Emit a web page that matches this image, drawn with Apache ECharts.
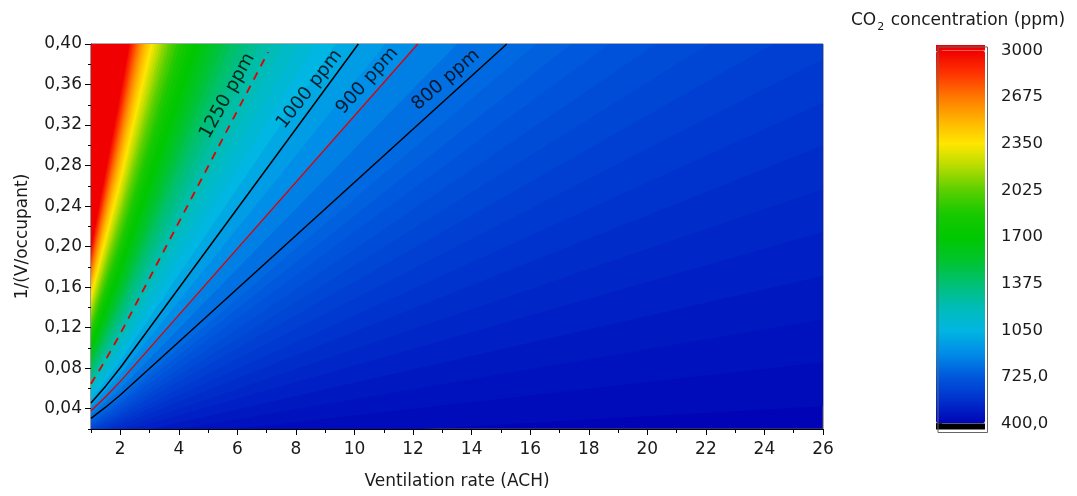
<!DOCTYPE html>
<html>
<head>
<meta charset="utf-8">
<script src="https://cdn.jsdelivr.net/npm/echarts@6/dist/echarts.min.js"></script>
<style>
html,body{margin:0;padding:0;background:#fff;}
#chart{width:1077px;height:496px;}
</style>
</head>
<body>
<div id="chart"></div>
<script>
// ---- Data ----
// Filled contour levels (ppm); each band boundary read at x = 1 ACH, x = 2 ACH and where it meets the top edge (y = 0.40)
const fillLevels = [425,450,475,500,525,550,575,600,625,650,675,700,725,750,775,800,850,900,950,1000,1050,1100,1150,1200,1250,1300,1350,1400,1450,1500,1550,1600,1650,1700,1750,1800,1850,1900,1950,2000,2050,2100,2150,2200,2250,2300,2350,2400,2450,2500,2550,2600,2650,2700,2750,2800,2850,2900,2950,3000];
const fillYAtX1 = [.002,.004,.006,.008,.010,.011,.013,.015,.017,.019,.021,.023,.025,.027,.029,.030,.034,.038,.042,.046,.049,.053,.057,.061,.065,.068,.072,.076,.080,.084,.087,.091,.095,.099,.103,.106,.110,.114,.118,.122,.125,.129,.133,.137,.141,.145,.148,.152,.156,.160,.164,.167,.171,.175,.179,.183,.186,.190,.194,.198];
const fillYAtX2 = [.003,.007,.010,.013,.017,.020,.024,.027,.030,.034,.037,.040,.044,.047,.050,.054,.060,.067,.074,.080,.087,.094,.101,.107,.114,.121,.127,.134,.141,.147,.154,.161,.168,.174,.181,.188,.194,.201,.208,.214,.221,.228,.235,.241,.248,.255,.261,.268,.275,.282,.288,.295,.302,.308,.315,.322,.328,.335,.342,.349];
const fillXAtTop = [243,121.6,81.1,60.8,48.6,40.5,34.7,30.4,27.0,24.3,22.1,20.3,18.7,17.4,16.2,15.2,13.5,12.16,11.05,10.13,9.35,8.69,8.11,7.60,7.15,6.76,6.40,6.08,5.79,5.53,5.29,5.07,4.86,4.68,4.50,4.34,4.19,4.05,3.92,3.80,3.68,3.58,3.47,3.38,3.29,3.20,3.12,3.04,2.96,2.89,2.82,2.75,2.69,2.63,2.57,2.52,2.46,2.41,2.36,2.32];
const readAtX = [1, 2];            // x positions where the band boundaries were read

// Labelled contour lines (x = ACH, y = 1/(V/occupant))
const contour800  = [[1, 0.0304], [1.5, 0.0415], [2, 0.0536], [15.2, 0.40]];
const contour900  = [[1, 0.0380], [1.5, 0.0519], [2, 0.0670], [12.16, 0.40]];
const contour1000 = [[1, 0.0457], [1.5, 0.0623], [2, 0.0804], [10.13, 0.40]];
const contour1250 = [[1, 0.0647], [1.5, 0.0883], [2, 0.1139], [7.05, 0.392]];

// Contour labels
const contourLabelText = ['800 ppm', '900 ppm', '1000 ppm', '1250 ppm'];
const contourLabelX = [13.12, 10.44, 8.46, 5.66];
const contourLabelY = [0.3645, 0.3638, 0.3553, 0.3487];
const contourLabelAngle = [41, 48, 52, 61];

// Axes
const xMin = 1, xMax = 26, xStep = 1;
const xLabelValues = [2, 4, 6, 8, 10, 12, 14, 16, 18, 20, 22, 24, 26];
const yMin = 0.02, yMax = 0.40, yStep = 0.02;
const yLabelValues = [0.04, 0.08, 0.12, 0.16, 0.20, 0.24, 0.28, 0.32, 0.36, 0.40];
const colorbarTicks  = [400, 725, 1050, 1375, 1700, 2025, 2350, 2675, 3000];
const colorbarLabels = ['400,0', '725,0', '1050', '1375', '1700', '2025', '2350', '2675', '3000'];
const colorMin = 400, colorMax = 3000;
const paletteColors = ['#0004b6','#0030cc','#0058dc','#008ce8','#00b6e2','#00bcb6','#00c074','#00c42c','#00c800','#18c900','#5acf00','#b4dc00','#ffe600','#ffb400','#ff7800','#ff3400','#f00000'];

// ---- Chart ----
const FONT = 'DejaVu Sans';
const TXT = '#1a1a1a';
const chart = echarts.init(document.getElementById('chart'), null, {renderer: 'canvas'});

const fillData = fillLevels.map((L, i) => [L, fillYAtX1[i], fillYAtX2[i], fillXAtTop[i]]);

function renderBand(params, api) {
  const cs = params.coordSys;
  const pts = [
    api.coord([readAtX[0], api.value(1)]),
    api.coord([readAtX[1], api.value(2)]),
    api.coord([api.value(3), yMax]),
    api.coord([readAtX[0], yMax])
  ];
  return {
    type: 'polygon',
    shape: {points: pts},
    style: {fill: api.visual('color'), stroke: null},
    clipPath: {type: 'rect', shape: {x: cs.x, y: cs.y, width: cs.width, height: cs.height}}
  };
}

const lineSeries = (data, color, width, type) => ({
  type: 'line', xAxisIndex: 0, yAxisIndex: 0, data: data, symbol: 'none', smooth: false,
  silent: true, clip: true, z: 5,
  lineStyle: {color: color, width: width, type: type}
});

const option = {
  animation: false,
  backgroundColor: '#ffffff',
  title: {
    text: '{a|CO}{s|2}{a| concentration (ppm)}',
    left: 851, top: 9, padding: 0,
    textStyle: {
      fontWeight: 'normal',
      rich: {
        a: {fontFamily: FONT, fontSize: 17, fontWeight: 'normal', color: TXT, lineHeight: 24, verticalAlign: 'middle'},
        s: {fontFamily: FONT, fontSize: 11, fontWeight: 'normal', color: TXT, lineHeight: 24, verticalAlign: 'bottom', padding: [0, 1, 0, 1]}
      }
    }
  },
  grid: [
    {left: 91, top: 44, width: 732, height: 385, show: true, backgroundColor: paletteColors[0], borderColor: '#555', borderWidth: 1},
    {left: 936, top: 50.5, width: 49, height: 373, show: false}
  ],
  xAxis: [
    {
      type: 'value', gridIndex: 0, min: xMin, max: xMax, interval: xStep,
      name: 'Ventilation rate (ACH)', nameLocation: 'middle', nameGap: 44,
      nameTextStyle: {fontFamily: FONT, fontSize: 17, color: TXT},
      axisLine: {show: true, onZero: false, lineStyle: {color: '#000', width: 1.2}},
      axisTick: {show: true, length: 6, customValues: xLabelValues, lineStyle: {color: '#000'}},
      axisLabel: {margin: 12, fontFamily: FONT, fontSize: 17, color: TXT, customValues: xLabelValues,
        formatter: v => String(Math.round(v))},
      splitLine: {show: false}
    },
    {type: 'value', gridIndex: 1, min: 0, max: 1, show: false},
    {
      type: 'value', gridIndex: 0, position: 'bottom', min: xMin, max: xMax, interval: xStep,
      axisLine: {show: false, onZero: false}, axisLabel: {show: false}, splitLine: {show: false},
      axisTick: {show: true, length: 4, lineStyle: {color: '#000'}}
    }
  ],
  yAxis: [
    {
      type: 'value', gridIndex: 0, min: yMin, max: yMax, interval: yStep,
      name: '1/(V/occupant)', nameLocation: 'middle', nameGap: 60,
      nameTextStyle: {fontFamily: FONT, fontSize: 17, color: TXT},
      axisLine: {show: true, onZero: false, lineStyle: {color: '#000', width: 1.2}},
      axisTick: {show: true, length: 6, customValues: yLabelValues, lineStyle: {color: '#000'}},
      axisLabel: {margin: 9, fontFamily: FONT, fontSize: 17, color: TXT, customValues: yLabelValues,
        formatter: v => v.toFixed(2).replace('.', ',')},
      splitLine: {show: false}
    },
    {
      type: 'value', gridIndex: 1, position: 'right', min: colorMin, max: colorMax,
      axisLine: {show: false},
      axisTick: {show: true, length: 6, customValues: colorbarTicks, lineStyle: {color: '#333'}},
      axisLabel: {show: true, margin: 16, customValues: colorbarTicks, fontFamily: FONT, fontSize: 16.5, color: TXT,
        formatter: v => { const i = colorbarTicks.indexOf(Math.round(v)); return i >= 0 ? colorbarLabels[i] : ''; }},
      splitLine: {show: false}
    },
    {
      type: 'value', gridIndex: 0, position: 'left', min: yMin, max: yMax, interval: yStep,
      axisLine: {show: false, onZero: false}, axisLabel: {show: false}, splitLine: {show: false},
      axisTick: {show: true, length: 3, lineStyle: {color: '#000'}}
    }
  ],
  visualMap: {
    type: 'continuous', min: colorMin, max: colorMax, dimension: 0, seriesIndex: 0,
    calculable: false, hoverLink: false, realtime: false,
    orient: 'vertical', left: 936, top: 50.5, padding: 0,
    itemWidth: 49, itemHeight: 373, text: null, showLabel: false,
    inRange: {color: paletteColors}
  },
  graphic: [
    {type: 'rect', left: 936, top: 45, shape: {width: 49, height: 5.5}, style: {fill: '#f00000'}, z: 100, silent: true},
    {type: 'rect', left: 936, top: 423.5, shape: {width: 49, height: 6}, style: {fill: '#000000'}, z: 100, silent: true},
    {type: 'rect', left: 935.5, top: 44.5, shape: {width: 49.5, height: 385.5}, style: {fill: null, stroke: '#666', lineWidth: 1}, z: 101, silent: true}
  ],
  series: [
    {
      type: 'custom', xAxisIndex: 0, yAxisIndex: 0, data: fillData,
      renderItem: renderBand, silent: true, z: 1, clip: true,
      encode: {x: 3, y: 1}
    },
    lineSeries(contour800, '#000000', 1.5, 'solid'),
    lineSeries(contour900, '#e00000', 1.3, 'solid'),
    lineSeries(contour1000, '#000000', 1.5, 'solid'),
    lineSeries(contour1250, '#e00000', 1.8, [8, 7]),
    {
      type: 'scatter', xAxisIndex: 0, yAxisIndex: 0, symbolSize: 2, silent: true, z: 6,
      itemStyle: {color: 'rgba(0,0,0,0)'},
      label: {show: true, position: 'inside', fontFamily: FONT, fontSize: 18.5, color: '#000'},
      data: contourLabelText.map((t, i) => ({
        value: [contourLabelX[i], contourLabelY[i]],
        label: {show: true, position: 'inside', formatter: t, rotate: contourLabelAngle[i],
          fontFamily: FONT, fontSize: 18.5, color: '#000'}
      }))
    }
  ]
};
chart.setOption(option);
</script>
</body>
</html>
